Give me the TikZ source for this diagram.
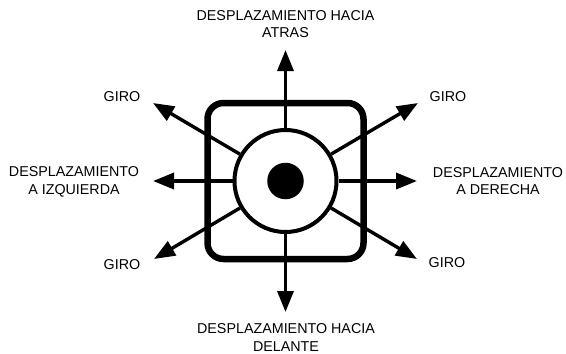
\documentclass[tikz,border=0pt]{standalone}
\usepackage{fontspec}
\setmainfont{Liberation Sans}
\usetikzlibrary{arrows.meta}
\begin{document}
\begin{tikzpicture}[x=1pt,y=-1pt,
  lbl/.style={font=\fontsize{14.3}{17.5}\selectfont, align=center, inner sep=0pt},
  arr/.style={line width=3.4pt, -{Triangle[length=21pt,width=16pt]}},
  ]
\useasboundingbox (0,0) rectangle (566,354);
\coordinate (c) at (285.5,181);
\node[draw, line width=6.5pt, rounded corners=16pt, minimum size=156pt, inner sep=0pt] (box) at (c) {};
\node[draw, line width=4pt, circle, minimum size=102pt, inner sep=0pt] (ring) at (c) {};
\node[fill, circle, minimum size=36.5pt, inner sep=0pt] (dot) at (c) {};
% arrow tips
\coordinate (tN) at (285.5,50);
\coordinate (tS) at (285.5,312);
\coordinate (tW) at (153,181);
\coordinate (tE) at (417,181);
\coordinate (tNW) at (153,103);
\coordinate (tNE) at (418,103);
\coordinate (tSW) at (154,259);
\coordinate (tSE) at (417,259);
\foreach \t in {tN,tS,tW,tE,tNW,tNE,tSW,tSE}{
  \draw[arr] (ring) -- (\t);
}
% labels
\node[lbl] (lN) at (285.5,24) {DESPLAZAMIENTO HACIA\\ATRAS};
\node[lbl] (lS) at (286,337.5) {DESPLAZAMIENTO HACIA\\DELANTE};
\node[lbl] (lW) at (74,182) {DESPLAZAMIENTO\\A IZQUIERDA};
\node[lbl] (lE) at (498,181) {DESPLAZAMIENTO\\A DERECHA};
\node[lbl] (gNW) at (122,97) {GIRO};
\node[lbl] (gNE) at (448,97) {GIRO};
\node[lbl] (gSW) at (122,265) {GIRO};
\node[lbl] (gSE) at (447,263) {GIRO};
\end{tikzpicture}
\end{document}
